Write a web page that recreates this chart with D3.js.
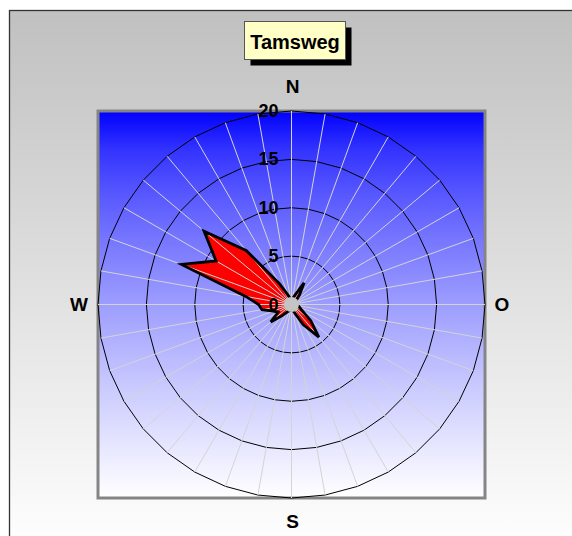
<!DOCTYPE html>
<html>
<head>
<meta charset="utf-8">
<script src="https://cdn.jsdelivr.net/npm/d3@7"></script>
<style>
  html, body { margin: 0; padding: 0; background: #ffffff; }
  svg { display: block; font-family: "Liberation Sans", Arial, sans-serif; }
</style>
</head>
<body>
<svg id="chart" width="572" height="536"></svg>
<script>
// Wind direction frequency for Tamsweg (per cent), every 10 degrees from north, clockwise
const directions = d3.range(0, 360, 10);
const frequency = [
  0.5, 0.6, 1.0, 2.6, 1.3, 0.6, 0.5, 0.5, 0.5,
  0.6, 0.7, 0.9, 1.3, 2.6, 4.4, 2.4, 0.9, 0.6,
  0.5, 0.6, 0.7, 0.9, 1.5, 2.8, 1.6, 2.0, 3.1,
  3.4, 4.8, 12.1, 9.0, 11.8, 7.3, 2.5, 1.0, 0.6
];
const radialTicks = [0, 5, 10, 15, 20];
const compassLabels = [
  { text: "N", angle: 0 },
  { text: "O", angle: 90 },
  { text: "S", angle: 180 },
  { text: "W", angle: 270 }
];
const title = "Tamsweg";

const svg = d3.select("#chart");
const defs = svg.append("defs");

// Chart area background: grey fading to white
const bgGrad = defs.append("linearGradient")
  .attr("id", "bgGrad").attr("gradientUnits", "userSpaceOnUse")
  .attr("x1", 0).attr("y1", 10).attr("x2", 0).attr("y2", 536);
bgGrad.append("stop").attr("offset", 0).attr("stop-color", "#c0c0c0");
bgGrad.append("stop").attr("offset", 1).attr("stop-color", "#fdfdfd");

// Plot area: blue fading to white
const plot = { x: 98, y: 111, size: 387 };
const plotGrad = defs.append("linearGradient")
  .attr("id", "plotGrad").attr("x1", 0).attr("y1", 0).attr("x2", 0).attr("y2", 1);
d3.range(0, 1.0001, 0.1).forEach(t => {
  const v = Math.round(255 * Math.pow(t, 0.7));
  plotGrad.append("stop").attr("offset", t).attr("stop-color", d3.rgb(v, v, 255));
});

svg.append("rect")
  .attr("x", 9.5).attr("y", 10.5).attr("width", 620).attr("height", 600)
  .attr("fill", "url(#bgGrad)").attr("stroke", "#333").attr("stroke-width", 1.3);

svg.append("rect")
  .attr("x", plot.x).attr("y", plot.y).attr("width", plot.size).attr("height", plot.size)
  .attr("fill", "url(#plotGrad)").attr("stroke", "#858585").attr("stroke-width", 3);

const cx = plot.x + plot.size / 2;
const cy = plot.y + plot.size / 2;
const outerR = plot.size / 2;

const r = d3.scaleLinear().domain([0, 20]).range([0, outerR]);
const ang = d3.scaleLinear().domain([0, 360]).range([0, 2 * Math.PI]);

const g = svg.append("g").attr("transform", `translate(${cx},${cy})`);

// Ring gridlines as 36-sided polygons
const ringLine = d3.lineRadial()
  .angle(d => ang(d.a)).radius(d => r(d.v))
  .curve(d3.curveLinearClosed);

g.append("g").selectAll("path")
  .data(radialTicks.filter(t => t > 0))
  .join("path")
  .attr("d", t => ringLine(directions.map(a => ({ a, v: t }))))
  .attr("fill", "none").attr("stroke", "#000").attr("stroke-width", 1);

// Data polygon
const pts = directions.map((a, i) => ({ a, v: frequency[i] }));
g.append("path")
  .attr("d", ringLine(pts))
  .attr("fill", "#ff0000").attr("stroke", "none");

// Spokes
g.append("g").selectAll("line")
  .data(directions)
  .join("line")
  .attr("x1", 0).attr("y1", 0)
  .attr("x2", a => r(20) * Math.sin(ang(a)))
  .attr("y2", a => -r(20) * Math.cos(ang(a)))
  .attr("stroke", "#d4d4d4").attr("stroke-width", 1);

// Outline of data polygon
g.append("path")
  .attr("d", ringLine(pts))
  .attr("fill", "none").attr("stroke", "#000")
  .attr("stroke-width", 2.8).attr("stroke-linejoin", "miter");

// Calm marker at the centre
g.append("circle").attr("r", 7.5).attr("fill", "#c4c4c4");

// Radial tick labels
g.append("g").selectAll("text")
  .data(radialTicks)
  .join("text")
  .attr("x", -13).attr("y", t => -r(t))
  .attr("text-anchor", "end").attr("dominant-baseline", "central")
  .attr("font-size", 18).attr("font-weight", "bold").attr("fill", "#000")
  .text(t => t);

// Compass labels
svg.append("g").selectAll("text")
  .data(compassLabels)
  .join("text")
  .attr("x", d => d.angle === 90 ? cx + outerR + 17 : d.angle === 270 ? cx - outerR - 19 : cx + 1)
  .attr("y", d => d.angle === 0 ? cy - outerR - 25 : d.angle === 180 ? cy + outerR + 23 : cy)
  .attr("text-anchor", "middle").attr("dominant-baseline", "central")
  .attr("font-size", 19).attr("font-weight", "bold").attr("fill", "#000")
  .text(d => d.text);

// Title box with shadow
const tb = { x: 244.5, y: 21.5, w: 101, h: 38 };
svg.append("rect")
  .attr("x", tb.x + 6).attr("y", tb.y + 6).attr("width", tb.w).attr("height", tb.h)
  .attr("fill", "#000");
svg.append("rect")
  .attr("x", tb.x).attr("y", tb.y).attr("width", tb.w).attr("height", tb.h)
  .attr("fill", "#ffffc6").attr("stroke", "#555").attr("stroke-width", 1);
svg.append("text")
  .attr("x", tb.x + tb.w / 2).attr("y", tb.y + tb.h / 2 + 1)
  .attr("text-anchor", "middle").attr("dominant-baseline", "central")
  .attr("font-size", 20).attr("font-weight", "bold").attr("fill", "#000")
  .text(title);
</script>
</body>
</html>
